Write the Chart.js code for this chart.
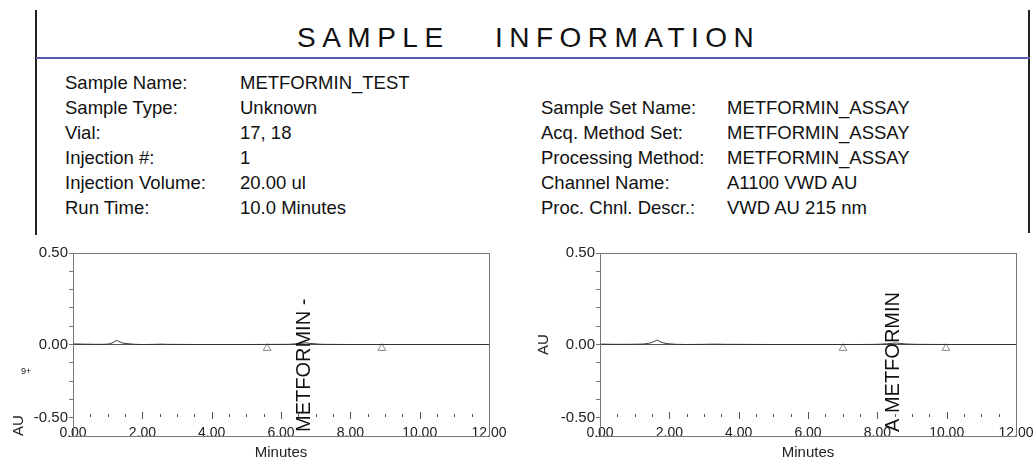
<!DOCTYPE html>
<html lang="en">
<head>
<meta charset="UTF-8">
<title>Sample Information</title>
<script src="https://cdn.jsdelivr.net/npm/chart.js"></script>
<style>
    * { margin: 0; padding: 0; box-sizing: border-box; }
    body {
        width: 1034px; height: 462px; overflow: hidden; position: relative;
        background: #fff; color: #111;
        font-family: 'Liberation Sans', Arial, sans-serif;
    }
    .vline { position: absolute; width: 2px; background: #222; }
    .title {
        position: absolute; left: 297px; top: 22px;
        font-size: 28px; line-height: 32px; letter-spacing: 6.5px; word-spacing: 31px;
        white-space: nowrap;
    }
    .rule { position: absolute; left: 36px; top: 57px; width: 994px; height: 2px; background: #5b5bb5; }
    .info { position: absolute; font-size: 18.5px; line-height: 25px; white-space: nowrap; }
    .chart-box { position: absolute; top: 240px; height: 222px; }
    .note { position: absolute; left: 21px; top: 366px; font-size: 9px; color: #222; }
</style>
</head>
<body>
    <div class="vline" style="left:35px; top:10px; height:225px;"></div>
    <div class="vline" style="left:1028px; top:10px; height:223px;"></div>
    <div class="title">SAMPLE INFORMATION</div>
    <div class="rule"></div>

    <div class="info" style="left:65px; top:70px;">
        <div>Sample Name:</div>
        <div>Sample Type:</div>
        <div>Vial:</div>
        <div>Injection #:</div>
        <div>Injection Volume:</div>
        <div>Run Time:</div>
    </div>
    <div class="info" style="left:240px; top:70px;">
        <div>METFORMIN_TEST</div>
        <div>Unknown</div>
        <div>17, 18</div>
        <div>1</div>
        <div>20.00 ul</div>
        <div>10.0 Minutes</div>
    </div>
    <div class="info" style="left:541px; top:95px;">
        <div>Sample Set Name:</div>
        <div>Acq. Method Set:</div>
        <div>Processing Method:</div>
        <div>Channel Name:</div>
        <div>Proc. Chnl. Descr.:</div>
    </div>
    <div class="info" style="left:727px; top:95px;">
        <div>METFORMIN_ASSAY</div>
        <div>METFORMIN_ASSAY</div>
        <div>METFORMIN_ASSAY</div>
        <div>A1100 VWD AU</div>
        <div>VWD AU 215 nm</div>
    </div>

    <div class="chart-box" style="left:0; width:520px;"><canvas id="chart-left"></canvas></div>
    <div class="chart-box" style="left:520px; width:514px;"><canvas id="chart-right"></canvas></div>
    <div class="note">9+</div>

<script>
// chromatogram 1 (left)
const leftTime = [0, 0.3, 0.6, 0.9, 1.05, 1.15, 1.22, 1.27, 1.32, 1.4, 1.5, 1.65, 1.8, 2.0, 2.4, 2.55, 2.7, 3.5, 5.0, 6.2, 6.45, 6.6, 6.7, 6.8, 6.95, 7.2, 8.0, 10.0, 12.0];
const leftAU = [0.003, 0.002, 0.001, 0.001, 0.004, 0.010, 0.018, 0.022, 0.017, 0.010, 0.006, 0.003, 0.001, 0.0, 0.001, 0.002, 0.001, 0.0, 0.0, 0.001, 0.004, 0.007, 0.009, 0.007, 0.004, 0.001, 0.0, 0.0, 0.0];
const leftMarks = [5.6, 8.91];
const leftPeakNames = ['METFORMIN -'];
const leftPeakTimes = [6.69];

// chromatogram 2 (right)
const rightTime = [0, 0.4, 0.8, 1.2, 1.4, 1.52, 1.6, 1.65, 1.7, 1.78, 1.9, 2.05, 2.2, 2.5, 3.0, 3.3, 3.6, 5.0, 7.5, 8.0, 8.3, 8.45, 8.55, 8.65, 8.8, 9.1, 10.0, 12.0];
const rightAU = [0.002, 0.001, 0.001, 0.002, 0.006, 0.013, 0.020, 0.024, 0.019, 0.012, 0.006, 0.003, 0.001, 0.0, 0.001, 0.002, 0.001, 0.0, 0.0, 0.001, 0.004, 0.007, 0.008, 0.006, 0.003, 0.001, 0.0, 0.0];
const rightMarks = [7.01, 9.98];
const rightPeakNames = ['A METFORMIN'];
const rightPeakTimes = [8.47];

const markLevel = -0.02;

// y tick labels as printed on the report
const yLabelAt = [0.5, 0, -0.4];
const yLabelText = ['0.50', '0.00', '-0.50'];

const FONT = "'Liberation Sans', Arial, sans-serif";

// plot frame + small minute ticks inside the plot
const framePlugin = {
    id: 'frame',
    afterDatasetsDraw(chart) {
        const { ctx, chartArea: a, scales: { x } } = chart;
        ctx.save();
        ctx.strokeStyle = '#777';
        ctx.lineWidth = 1;
        ctx.strokeRect(a.left + 0.5, a.top + 0.5, a.right - a.left, a.bottom - a.top);
        ctx.strokeStyle = '#555';
        for (let t = 0.5; t < 12; t += 0.5) {
            const px = Math.round(x.getPixelForValue(t)) + 0.5;
            const major = t % 2 === 0;
            ctx.beginPath();
            ctx.moveTo(px, a.bottom - (major ? 24 : 22));
            ctx.lineTo(px, a.bottom - (major ? 17 : 19));
            ctx.stroke();
        }
        ctx.restore();
    }
};

// vertical peak names
const peakPlugin = {
    id: 'peaks',
    afterDatasetsDraw(chart, args, opts) {
        const { ctx, chartArea: a, scales: { x } } = chart;
        ctx.save();
        ctx.fillStyle = '#111';
        ctx.font = '20px ' + FONT;
        ctx.textAlign = 'left';
        ctx.textBaseline = 'middle';
        opts.names.forEach((name, i) => {
            ctx.save();
            ctx.translate(x.getPixelForValue(opts.times[i]), a.bottom - 4);
            ctx.rotate(-Math.PI / 2);
            ctx.fillText(name, 0, 0);
            ctx.restore();
        });
        ctx.restore();
    }
};

function yLabel(v) {
    const i = yLabelAt.findIndex(a => Math.abs(a - v) < 1e-6);
    return i >= 0 ? yLabelText[i] : '';
}

function makeChart(id, cfg) {
    return new Chart(document.getElementById(id), {
        type: 'line',
        data: {
            datasets: [{
                data: cfg.time.map((t, i) => ({ x: t, y: cfg.au[i] })),
                borderColor: '#333',
                borderWidth: 1,
                pointRadius: 0,
                cubicInterpolationMode: 'monotone'
            }, {
                data: cfg.marks.map(t => ({ x: t, y: markLevel })),
                showLine: false,
                pointStyle: 'triangle',
                pointRadius: 4.5,
                borderColor: '#888',
                borderWidth: 1,
                backgroundColor: 'rgba(0,0,0,0)'
            }]
        },
        options: {
            responsive: true,
            maintainAspectRatio: false,
            animation: false,
            layout: { padding: { top: 13, right: cfg.padRight, bottom: 0, left: 0 } },
            plugins: {
                legend: { display: false },
                tooltip: { enabled: false },
                peaks: { names: cfg.peakNames, times: cfg.peakTimes }
            },
            scales: {
                x: {
                    type: 'linear', min: 0, max: 12,
                    grid: { display: false, drawTicks: false },
                    border: { display: false },
                    ticks: {
                        stepSize: 2, autoSkip: false, maxRotation: 0,
                        mirror: true, padding: -6,
                        color: '#222', font: { size: 14, family: FONT },
                        callback: v => v.toFixed(2)
                    },
                    title: { display: true, text: 'Minutes', color: '#222', font: { size: 15, family: FONT }, padding: 0 },
                    afterFit: s => { s.height = 26; s.paddingLeft = 0; s.paddingRight = 0; }
                },
                y: {
                    min: -0.5, max: 0.5,
                    grid: {
                        color: c => (c.tick && Math.abs(c.tick.value) < 1e-6) ? '#555' : 'rgba(0,0,0,0)',
                        tickColor: '#777', tickLength: 4, lineWidth: 1
                    },
                    border: { display: false },
                    ticks: {
                        stepSize: 0.1, autoSkip: false, padding: 1,
                        color: '#222', font: { size: 15, family: FONT },
                        callback: v => yLabel(v)
                    },
                    title: {
                        display: true, text: 'AU', align: cfg.auAlign, color: '#222',
                        font: { size: 15, family: FONT }, padding: { top: cfg.auPad, bottom: 0 }
                    },
                    afterFit: s => { s.width = cfg.axisWidth; }
                }
            }
        },
        plugins: [framePlugin, peakPlugin]
    });
}

makeChart('chart-left', {
    time: leftTime, au: leftAU, marks: leftMarks,
    peakNames: leftPeakNames, peakTimes: leftPeakTimes,
    padRight: 31, axisWidth: 73, auAlign: 'start', auPad: 10
});

makeChart('chart-right', {
    time: rightTime, au: rightAU, marks: rightMarks,
    peakNames: rightPeakNames, peakTimes: rightPeakTimes,
    padRight: 18, axisWidth: 80, auAlign: 'center', auPad: 15
});
</script>
</body>
</html>
